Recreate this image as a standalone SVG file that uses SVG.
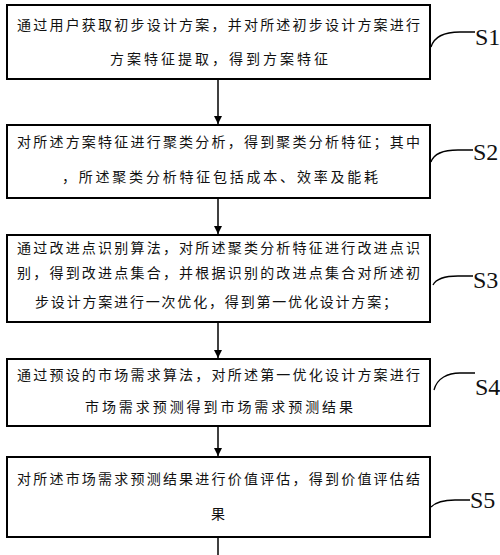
<svg xmlns="http://www.w3.org/2000/svg" width="500" height="555" viewBox="0 0 500 555">
<defs>
<style>
.box{fill:#fff;stroke:#000;stroke-width:2}
.t{font-family:"Noto Sans CJK SC","Noto Sans",sans-serif;font-size:14px;fill:#111;text-anchor:middle}
.s{font-family:"Liberation Serif",serif;font-size:24px;fill:#111}
.c{fill:none;stroke:#000;stroke-width:1.5}
.lead{fill:none;stroke:#000;stroke-width:1.3}
</style>
<marker id="ah" viewBox="0 0 10 10" refX="10" refY="5" markerWidth="8" markerHeight="8" markerUnits="userSpaceOnUse" orient="auto">
<path d="M0,0 L10,5 L0,10 z" fill="#000"/>
</marker>
</defs>
<rect width="500" height="555" fill="#fff"/>
<g id="connectors">
<line class="c" x1="218" y1="80" x2="218" y2="124" marker-end="url(#ah)"/>
<line class="c" x1="218" y1="198" x2="218" y2="234" marker-end="url(#ah)"/>
<line class="c" x1="218" y1="322" x2="218" y2="358" marker-end="url(#ah)"/>
<line class="c" x1="218" y1="426" x2="218" y2="456" marker-end="url(#ah)"/>
<line class="c" x1="218" y1="537" x2="218" y2="555"/>
</g>
<g id="S1">
<rect class="box" x="7" y="5" width="423" height="74"/>
<text class="t" x="218.5" y="30" textLength="403" lengthAdjust="spacing">通过用户获取初步设计方案，并对所述初步设计方案进行</text>
<text class="t" x="219" y="64" textLength="218" lengthAdjust="spacing">方案特征提取，得到方案特征</text>
<path class="lead" d="M431,47 C434,37 445,32 460,32 L475,32"/>
<text class="s" x="475" y="45">S1</text>
</g>
<g id="S2">
<rect class="box" x="7" y="125" width="423" height="73"/>
<text class="t" x="218.5" y="147" textLength="403" lengthAdjust="spacing">对所述方案特征进行聚类分析，得到聚类分析特征；其中</text>
<text class="t" x="220" y="182" textLength="316" lengthAdjust="spacing">，所述聚类分析特征包括成本、效率及能耗</text>
<path class="lead" d="M431,162 C434,153 445,150 458,150 L473,150"/>
<text class="s" x="473" y="160">S2</text>
</g>
<g id="S3">
<rect class="box" x="7" y="235" width="423" height="87"/>
<text class="t" x="218.5" y="253" textLength="403" lengthAdjust="spacing">通过改进点识别算法，对所述聚类分析特征进行改进点识</text>
<text class="t" x="218.5" y="278" textLength="403" lengthAdjust="spacing">别，得到改进点集合，并根据识别的改进点集合对所述初</text>
<text class="t" x="216" y="307" textLength="362" lengthAdjust="spacing">步设计方案进行一次优化，得到第一优化设计方案；</text>
<path class="lead" d="M433,285 C436,279 445,276 458,276 L473,276"/>
<text class="s" x="473" y="288">S3</text>
</g>
<g id="S4">
<rect class="box" x="7" y="359" width="423" height="67"/>
<text class="t" x="218.5" y="380" textLength="403" lengthAdjust="spacing">通过预设的市场需求算法，对所述第一优化设计方案进行</text>
<text class="t" x="219" y="412" textLength="268" lengthAdjust="spacing">市场需求预测得到市场需求预测结果</text>
<path class="lead" d="M434,390 C437,378 448,373 460,373 L475,373"/>
<text class="s" x="475" y="395">S4</text>
</g>
<g id="S5">
<rect class="box" x="7" y="457" width="423" height="80"/>
<text class="t" x="218.5" y="484" textLength="403" lengthAdjust="spacing">对所述市场需求预测结果进行价值评估，得到价值评估结</text>
<text class="t" x="218" y="519">果</text>
<path class="lead" d="M431,507 C436,502 445,500 455,500 L470,500"/>
<text class="s" x="470" y="508">S5</text>
</g>
</svg>
